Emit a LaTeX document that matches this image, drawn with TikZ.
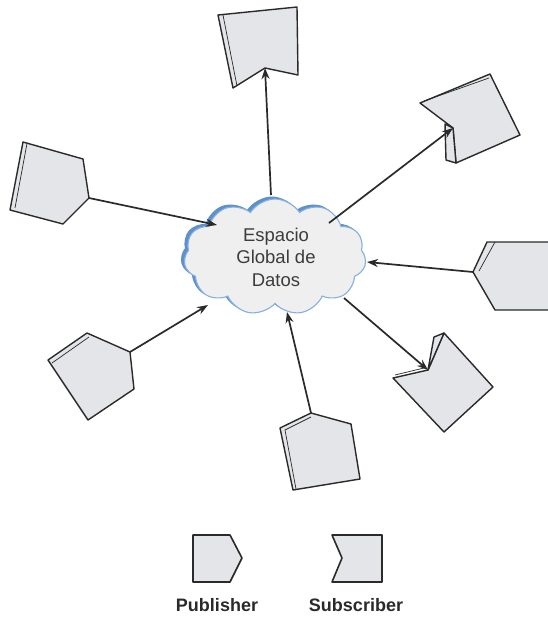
\documentclass[tikz,border=0pt]{standalone}
\usepackage{fontspec}
\setmainfont{Liberation Sans}
\usetikzlibrary{arrows.meta,shapes.symbols}
\definecolor{ink}{HTML}{2A2A2A}
\definecolor{boxfill}{HTML}{E4E5E8}
\definecolor{cloudfill}{HTML}{EFEFF0}
\definecolor{cloudline}{HTML}{86B0DE}
\definecolor{cloudshade}{HTML}{5E90CC}
\definecolor{labelgrey}{HTML}{3C3C3C}
\begin{document}
\begin{tikzpicture}[x=1pt,y=-1pt,
  part/.style={draw=ink, fill=boxfill, line width=1.4pt, line join=round},
  depth/.style={draw=ink, line width=0.7pt},
  link/.style={draw=ink, line width=1.7pt, -{Stealth[length=11pt,width=8pt]}},
  puff/.style={cloud, cloud puffs=11, cloud puff arc=115, aspect=1.6,
    minimum width=182pt, minimum height=116pt, inner sep=0pt},
  legendtext/.style={font=\bfseries\fontsize{18}{20}\selectfont, text=ink}]

\fill[white] (0,0) rectangle (548,619);
\useasboundingbox (0,0) rectangle (548,619);

% shared data space
\node[puff, fill=cloudshade, draw=cloudshade, line width=1pt] (cloudshadow) at (272,255) {};
\node[puff, fill=cloudfill, draw=cloudline, line width=1.1pt] (cloud) at (275,257) {};
\node[align=center, text=labelgrey, font=\fontsize{18.5}{22.5}\selectfont] (cloudlabel)
  at (276,257) {Espacio\\Global de\\Datos};

% attachment points on the cloud
\coordinate (c1) at (217,225);
\coordinate (c2) at (271,195);
\coordinate (c3) at (329,223);
\coordinate (c4) at (367,262);
\coordinate (c5) at (344,298);
\coordinate (c6) at (287,312);
\coordinate (c7) at (208,305);

% publisher, upper left
\draw[part] (23,142) -- (83,159) -- (89,198) -- (63,224) -- (10,210) -- cycle;
\draw[depth] (27,143.5) -- (15,208);
\coordinate (p1) at (89,198);

% subscriber, top
\draw[part] (218,15) -- (297,7) -- (298,75) -- (265,68) -- (233,88) -- cycle;
\draw[depth] (223,15) -- (237,86);
\coordinate (s1) at (265,68);

% subscriber, upper right
\draw[part] (420,103) -- (490,74) -- (520,135) -- (456,163) -- (453,128) -- cycle;
\draw[part] (445,124) -- (453,128) -- (456,163) -- (446,160) -- cycle;
\draw[depth] (424,101) -- (489,78);
\coordinate (s2) at (453,128);

% publisher, right (runs past the edge)
\begin{scope}
  \clip (0,0) rectangle (548,619);
  \draw[part] (487,242) -- (570,242) -- (570,310) -- (495,310) -- (473,272) -- cycle;
  \draw[depth] (495,242) -- (479,271);
\end{scope}
\coordinate (p2) at (473,272);

% subscriber, lower right
\draw[part] (393,378) -- (428,370) -- (444,333) -- (493,387) -- (444,432) -- cycle;
\draw[part] (428,370) -- (434,337) -- (444,333) -- cycle;
\draw[depth] (395,375) -- (426,367.5);
\coordinate (s3) at (428,370);

% publisher, bottom
\draw[part] (280,428) -- (311,413) -- (351,424) -- (360,479) -- (293,490) -- cycle;
\draw[depth] (296,489) -- (285,430) -- (311,417);
\coordinate (p3) at (311,413);

% publisher, lower left
\draw[part] (48,360) -- (87,333) -- (130,352) -- (134,389) -- (88,420) -- cycle;
\draw[depth] (52,363) -- (89,337);
\coordinate (p4) at (130,352);

% connectors
\draw[link] (p1) -- (c1);
\draw[link] (c2) -- (s1);
\draw[link] (c3) -- (s2);
\draw[link] (p2) -- (c4);
\draw[link] (c5) -- (s3);
\draw[link] (p3) -- (c6);
\draw[link] (p4) -- (c7);

% legend
\draw[part, line width=1.6pt] (193,535) -- (230,535) -- (242,558) -- (230,582) -- (193,582) -- cycle;
\draw[part, line width=1.6pt] (332,535) -- (382,535) -- (382,582) -- (332,582) -- (342,558) -- cycle;
\node[legendtext] (publabel) at (217,605) {Publisher};
\node[legendtext] (sublabel) at (356,605) {Subscriber};
\end{tikzpicture}
\end{document}
